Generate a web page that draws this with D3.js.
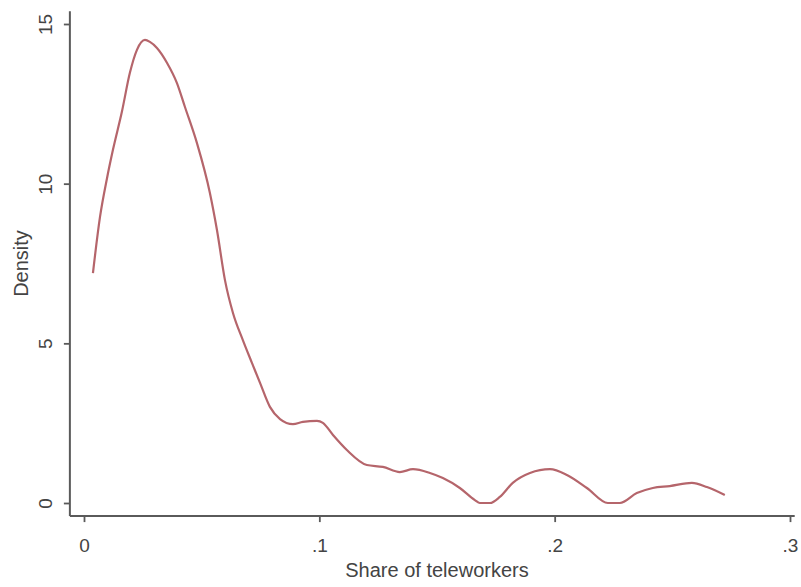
<!DOCTYPE html>
<html>
<head>
<meta charset="utf-8">
<script src="https://cdn.jsdelivr.net/npm/d3@7"></script>
<style>
  body { margin: 0; background: white; }
  svg { display: block; font-family: "Liberation Sans", Arial, sans-serif; }
</style>
</head>
<body>
<div id="chart"></div>
<script>
// kernel density estimate, share of teleworkers
var shareValues = [0.0038, 0.0068, 0.0098, 0.0123, 0.0161, 0.0195, 0.0225, 0.0259, 0.0280, 0.0310,
  0.0353, 0.0395, 0.0429, 0.0480, 0.0535, 0.0565, 0.0599, 0.0633, 0.0675, 0.0714,
  0.0748, 0.0790, 0.0833, 0.0888, 0.0930, 0.0990, 0.1015, 0.1058, 0.1117, 0.1202,
  0.1270, 0.1342, 0.1398, 0.1470, 0.1525, 0.1597, 0.1661, 0.1682, 0.1725, 0.1767,
  0.1822, 0.1895, 0.1980, 0.2052, 0.2137, 0.2226, 0.2277, 0.2349, 0.2417, 0.2489,
  0.2583, 0.2647, 0.2723];
var densityValues = [7.20, 8.96, 10.18, 11.06, 12.25, 13.47, 14.19, 14.50, 14.44, 14.25,
  13.78, 13.15, 12.40, 11.27, 9.71, 8.55, 6.98, 5.95, 5.10, 4.38,
  3.76, 3.01, 2.63, 2.47, 2.54, 2.57, 2.51, 2.13, 1.66, 1.19,
  1.13, 0.97, 1.06, 0.94, 0.78, 0.47, 0.09, 0.00, 0.00, 0.19,
  0.63, 0.94, 1.06, 0.88, 0.47, 0.00, 0.00, 0.31, 0.47, 0.53,
  0.63, 0.50, 0.25];

var xTicks = [0, 0.1, 0.2, 0.3];
var xTickLabels = ["0", ".1", ".2", ".3"];
var yTicks = [0, 5, 10, 15];

var width = 801, height = 587;
var axisColor = "#5a5a5a";
var lineColor = "#b5656b";

var svg = d3.select("#chart").append("svg")
    .attr("width", width)
    .attr("height", height)

var x = d3.scaleLinear().domain([0, 0.3]).range([84, 790])
var y = d3.scaleLinear().domain([0, 15]).range([503, 24])

var axisLeftX = x(-0.006)
var axisBottomY = y(-0.41)

// y axis
var yAxis = svg.append("g")
    .attr("transform", "translate(" + axisLeftX + ",0)")
    .call(d3.axisLeft(y).tickValues(yTicks).tickSize(6).tickSizeOuter(0))

yAxis.select(".domain").remove()
yAxis.selectAll(".tick line").attr("stroke", axisColor).attr("stroke-width", 1.8)
yAxis.selectAll(".tick text")
    .attr("x", 0)
    .attr("y", 0)
    .attr("dy", "0.35em")
    .attr("transform", "translate(-25,0) rotate(-90)")
    .style("text-anchor", "middle")
    .style("font-size", "19px")
    .style("font-family", "'Liberation Sans', Arial, sans-serif")
    .attr("fill", "#444")

svg.append("line")
    .attr("x1", axisLeftX).attr("x2", axisLeftX)
    .attr("y1", y(15.4)).attr("y2", axisBottomY)
    .attr("stroke", axisColor)
    .attr("stroke-width", 2)

// x axis
var xAxis = svg.append("g")
    .attr("transform", "translate(0," + axisBottomY + ")")
    .call(d3.axisBottom(x).tickValues(xTicks).tickFormat((d, i) => xTickLabels[i]).tickSize(6).tickSizeOuter(0))

xAxis.select(".domain").remove()
xAxis.selectAll(".tick line").attr("stroke", axisColor).attr("stroke-width", 1.8)
xAxis.selectAll(".tick text")
    .attr("y", 36)
    .attr("dy", 0)
    .style("font-size", "19px")
    .style("font-family", "'Liberation Sans', Arial, sans-serif")
    .attr("fill", "#444")

svg.append("line")
    .attr("x1", axisLeftX).attr("x2", x(0.302))
    .attr("y1", axisBottomY).attr("y2", axisBottomY)
    .attr("stroke", axisColor)
    .attr("stroke-width", 2)

// axis titles
svg.append("text")
    .attr("x", x(0.15))
    .attr("y", 577)
    .text("Share of teleworkers")
    .style("text-anchor", "middle")
    .style("font-size", "20px")
    .attr("fill", "#444")

svg.append("text")
    .attr("transform", "translate(28," + y(7.5) + ") rotate(-90)")
    .text("Density")
    .style("text-anchor", "middle")
    .style("font-size", "20px")
    .attr("fill", "#444")

// density curve
var points = shareValues.map((v, i) => [v, densityValues[i]])

var line = d3.line()
    .x(d => x(d[0]))
    .y(d => y(d[1]))
    .curve(d3.curveMonotoneX)

svg.append("path")
    .datum(points)
    .attr("d", line)
    .attr("fill", "none")
    .attr("stroke", lineColor)
    .attr("stroke-width", 2.2)
    .attr("stroke-linejoin", "round")
</script>
</body>
</html>
